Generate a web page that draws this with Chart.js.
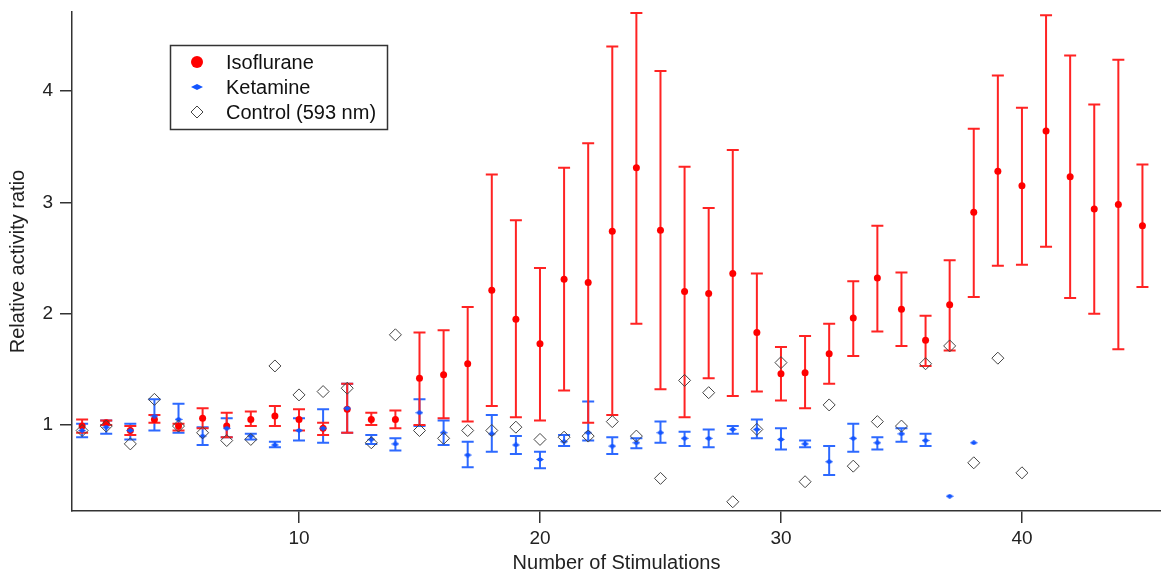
<!DOCTYPE html>
<html>
<head>
<meta charset="utf-8">
<script src="https://cdn.jsdelivr.net/npm/chart.js@4.4.1/dist/chart.umd.min.js"></script>
<style>
  html, body { margin: 0; padding: 0; background: #fff; overflow: hidden; }
</style>
</head>
<body>
<canvas id="mycanvas" width="1168" height="571"></canvas>
<script>
// stimulation number for each point
var stim = [1,2,3,4,5,6,7,8,9,10,11,12,13,14,15,16,17,18,19,20,21,22,23,24,25,26,27,28,29,30,
            31,32,33,34,35,36,37,38,39,40,41,42,43,44,45];

// Isoflurane: mean, upper and lower error bar ends
var iso   = [0.99,1.02,0.95,1.05,0.99,1.06,0.99,1.05,1.08,1.05,0.97,1.14,1.05,1.05,1.42,1.45,1.55,2.21,1.95,1.73,
             2.31,2.28,2.74,3.31,2.75,2.20,2.18,2.36,1.83,1.46,1.47,1.64,1.96,2.32,2.04,1.76,2.08,2.91,3.28,3.15,
             3.64,3.23,2.94,2.98,2.79];
var isoHi = [1.05,1.04,0.99,1.09,1.01,1.15,1.11,1.12,1.17,1.14,1.02,1.37,1.11,1.13,1.83,1.85,2.06,3.25,2.84,2.41,
             3.31,3.53,4.40,4.70,4.18,3.32,2.95,3.47,2.36,1.70,1.80,1.91,2.29,2.79,2.37,1.98,2.48,3.66,4.14,3.85,
             4.68,4.32,3.88,4.28,3.34];
var isoLo = [0.93,1.00,0.91,1.02,0.95,0.97,0.89,0.99,0.99,0.95,0.91,0.93,1.00,0.97,1.00,1.06,1.03,1.17,1.07,1.04,
             1.31,1.02,1.09,1.91,1.32,1.07,1.42,1.26,1.30,1.22,1.15,1.37,1.62,1.84,1.71,1.53,1.67,2.15,2.43,2.44,
             2.60,2.14,2.00,1.68,2.24];

// Ketamine (last two points have no error bar)
var ket   = [0.95,0.98,0.95,1.08,1.05,0.90,0.97,0.90,0.82,0.95,0.97,1.15,0.87,0.83,1.11,0.93,0.73,0.92,0.82,0.69,
             0.85,0.93,0.81,0.84,0.93,0.88,0.88,0.96,0.96,0.87,0.83,0.67,0.88,0.84,0.92,0.86,0.36,0.84];
var ketHi = [1.01,1.04,1.01,1.23,1.19,0.98,1.06,0.92,0.85,1.06,1.14,1.37,0.91,0.88,1.23,1.04,0.85,1.09,0.90,0.76,
             0.91,1.21,0.89,0.88,1.03,0.94,0.96,0.99,1.05,0.97,0.86,0.81,1.01,0.89,0.97,0.92,null,null];
var ketLo = [0.89,0.92,0.87,0.95,0.93,0.82,0.89,0.87,0.80,0.86,0.84,0.93,0.83,0.77,0.99,0.82,0.62,0.76,0.74,0.61,
             0.81,0.86,0.74,0.79,0.84,0.81,0.80,0.92,0.88,0.78,0.80,0.55,0.76,0.78,0.85,0.81,null,null];

// Control (593 nm)
var ctrl  = [0.95,0.99,0.83,1.23,0.99,0.93,0.86,0.87,1.53,1.27,1.30,1.33,0.84,1.81,0.95,0.88,0.95,0.95,0.98,0.87,
             0.89,0.90,1.03,0.90,0.52,1.40,1.29,0.31,0.96,1.56,0.49,1.18,0.63,1.03,0.99,1.55,1.71,0.66,1.60,0.57];

var xTicks = [10,20,30,40];
var yTicks = [1,2,3,4];

var RED = "rgb(255, 0, 0)";
var RED_BAR = "rgb(255, 35, 35)";
var BLUE = "rgb(20, 85, 255)";
var BLUE_BAR = "rgb(45, 105, 255)";
var FONT = "'Liberation Sans', Arial, sans-serif";

function pts(vals) {
  var out = [];
  for (var i in vals) out.push({x: stim[i], y: vals[i]});
  return out;
}

// small flat diamond used for the ketamine marker
function flatDiamond(w, h) {
  var c = document.createElement("canvas");
  c.width = w; c.height = h;
  var g = c.getContext("2d");
  g.fillStyle = BLUE;
  g.beginPath();
  g.moveTo(0, h / 2); g.lineTo(w / 2, 0); g.lineTo(w, h / 2); g.lineTo(w / 2, h);
  g.closePath(); g.fill();
  return c;
}
var ketMark = flatDiamond(8, 5);

function noPad(s) {
  s.paddingTop = 0; s.paddingBottom = 0; s.paddingLeft = 0; s.paddingRight = 0;
}

var errorBars = {
  id: "errorBars",
  beforeDatasetsDraw: function(chart) {
    var ctx = chart.ctx, xs = chart.scales.x, ys = chart.scales.y, a = chart.chartArea;
    var sets = [[ket, ketHi, ketLo, BLUE_BAR], [iso, isoHi, isoLo, RED_BAR]];
    ctx.save();
    ctx.beginPath();
    ctx.rect(a.left, a.top - 2, a.right - a.left, a.bottom - a.top + 2);
    ctx.clip();
    ctx.lineWidth = 2;
    for (var s = 0; s < sets.length; s++) {
      var hi = sets[s][1], lo = sets[s][2];
      ctx.strokeStyle = sets[s][3];
      for (var i = 0; i < sets[s][0].length; i++) {
        if (hi[i] == null) continue;
        var px = xs.getPixelForValue(stim[i]);
        var pHi = ys.getPixelForValue(hi[i]);
        var pLo = ys.getPixelForValue(lo[i]);
        ctx.beginPath();
        ctx.moveTo(px, pHi); ctx.lineTo(px, pLo);
        ctx.moveTo(px - 6, pHi); ctx.lineTo(px + 6, pHi);
        ctx.moveTo(px - 6, pLo); ctx.lineTo(px + 6, pLo);
        ctx.stroke();
      }
    }
    ctx.restore();
  }
};

var boxLegend = {
  id: "boxLegend",
  afterDraw: function(chart) {
    var ctx = chart.ctx;
    var bx = 170.5, by = 45.5, bw = 217, bh = 84;
    ctx.save();
    ctx.fillStyle = "#fff";
    ctx.fillRect(bx, by, bw, bh);
    ctx.strokeStyle = "#333";
    ctx.lineWidth = 1.5;
    ctx.strokeRect(bx, by, bw, bh);
    var mx = 197, tx = 226, rows = [62, 87, 112];
    // markers
    ctx.fillStyle = RED;
    ctx.beginPath(); ctx.arc(mx, rows[0], 6, 0, Math.PI * 2); ctx.fill();
    ctx.fillStyle = BLUE;
    ctx.beginPath();
    ctx.moveTo(mx - 6, rows[1]); ctx.lineTo(mx, rows[1] - 3); ctx.lineTo(mx + 6, rows[1]); ctx.lineTo(mx, rows[1] + 3);
    ctx.closePath(); ctx.fill();
    ctx.strokeStyle = "#444";
    ctx.lineWidth = 1;
    ctx.beginPath();
    ctx.moveTo(mx - 6, rows[2]); ctx.lineTo(mx, rows[2] - 6); ctx.lineTo(mx + 6, rows[2]); ctx.lineTo(mx, rows[2] + 6);
    ctx.closePath(); ctx.stroke();
    // labels
    ctx.fillStyle = "#111";
    ctx.font = "20px " + FONT;
    ctx.textBaseline = "middle";
    var ds = chart.data.datasets;
    for (var i = 0; i < ds.length; i++) ctx.fillText(ds[i].label, tx, rows[i] + 1);
    ctx.restore();
  }
};

var chartdata = {
  datasets: [
    {
      label: "Isoflurane",
      data: pts(iso),
      backgroundColor: RED,
      borderColor: RED,
      pointRadius: 3.5,
      pointBorderWidth: 0,
      order: 2
    },
    {
      label: "Ketamine",
      data: pts(ket),
      pointStyle: ketMark,
      backgroundColor: BLUE,
      borderColor: BLUE,
      order: 1
    },
    {
      label: "Control (593 nm)",
      data: pts(ctrl),
      pointStyle: "rectRot",
      pointRadius: 6,
      backgroundColor: "rgba(0,0,0,0)",
      borderColor: "#444",
      pointBorderWidth: 1,
      order: 0
    }
  ]
};

var ctx = document.getElementById("mycanvas");

var plot = new Chart(ctx, {
  type: "scatter",
  data: chartdata,
  options: {
    responsive: false,
    animation: false,
    devicePixelRatio: 1,
    layout: { padding: { top: 12, right: 1, left: 0, bottom: 0 } },
    plugins: { legend: { display: false }, tooltip: { enabled: false } },
    scales: {
      x: {
        type: "linear",
        position: "bottom",
        min: 0.58,
        max: 45.77,
        afterBuildTicks: function(s) { s.ticks = xTicks.map(function(v) { return {value: v}; }); },
        afterFit: function(s) { s.height = 60; noPad(s); },
        grid: { drawOnChartArea: false, drawTicks: true, tickLength: 12, color: "#333", lineWidth: 1.5 },
        border: { display: true, color: "#333", width: 1.5 },
        ticks: { color: "#222", font: { family: FONT, size: 19 }, padding: 4, maxRotation: 0 },
        title: { display: true, text: "Number of Stimulations", color: "#222",
                 font: { family: FONT, size: 20, lineHeight: 1 }, padding: { top: 0, bottom: -2 } }
      },
      y: {
        type: "linear",
        min: 0.227,
        max: 4.71,
        afterBuildTicks: function(s) { s.ticks = yTicks.map(function(v) { return {value: v}; }); },
        afterFit: function(s) { s.width = 72; noPad(s); },
        grid: { drawOnChartArea: false, drawTicks: true, tickLength: 12, color: "#333", lineWidth: 1.5 },
        border: { display: true, color: "#333", width: 1.5 },
        ticks: { color: "#222", font: { family: FONT, size: 19 }, padding: 7 },
        title: { display: true, text: "Relative activity ratio", color: "#222",
                 font: { family: FONT, size: 20, lineHeight: 1 }, padding: { top: 8, bottom: 0 } }
      }
    }
  },
  plugins: [errorBars, boxLegend]
});
</script>
</body>
</html>
